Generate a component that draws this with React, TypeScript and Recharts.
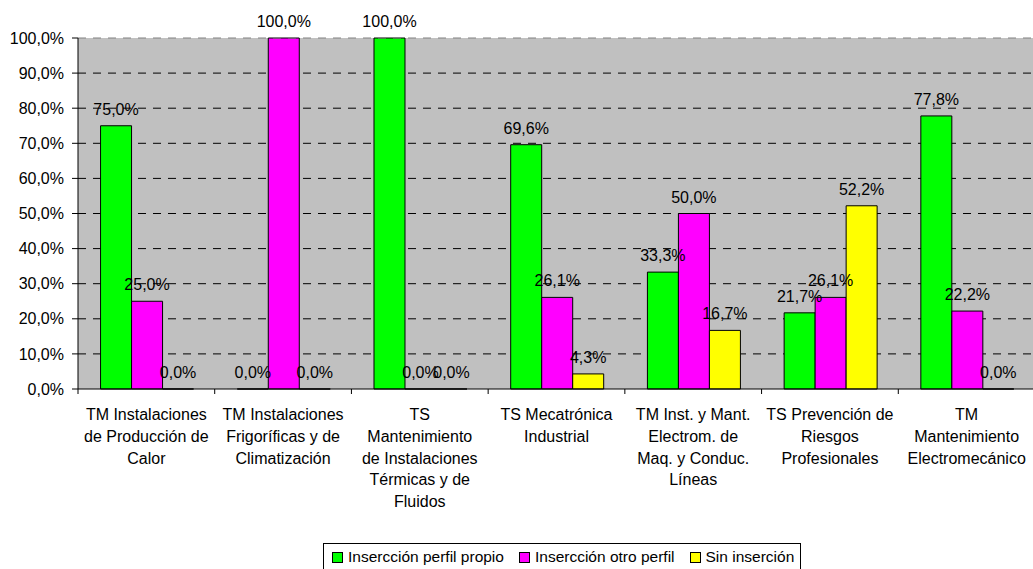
import React from 'react';
import { BarChart, Bar, XAxis, YAxis, CartesianGrid, LabelList, ReferenceLine } from 'recharts';

const categories = [
  'TM Instalaciones de Producción de Calor',
  'TM Instalaciones Frigoríficas y de Climatización',
  'TS Mantenimiento de Instalaciones Térmicas y de Fluidos',
  'TS Mecatrónica Industrial',
  'TM Inst. y Mant. Electrom. de Maq. y Conduc. Líneas',
  'TS Prevención de Riesgos Profesionales',
  'TM Mantenimiento Electromecánico',
];

const tickLines = [
  ['TM Instalaciones', 'de Producción de', 'Calor'],
  ['TM Instalaciones', 'Frigoríficas y de', 'Climatización'],
  ['TS', 'Mantenimiento', 'de Instalaciones', 'Térmicas y de', 'Fluidos'],
  ['TS Mecatrónica', 'Industrial'],
  ['TM Inst. y Mant.', 'Electrom. de', 'Maq. y Conduc.', 'Líneas'],
  ['TS Prevención de', 'Riesgos', 'Profesionales'],
  ['TM', 'Mantenimiento', 'Electromecánico'],
];

const propio = [75.0, 0.0, 100.0, 69.6, 33.3, 21.7, 77.8];
const otro = [25.0, 100.0, 0.0, 26.1, 50.0, 26.1, 22.2];
const sin = [0.0, 0.0, 0.0, 4.3, 16.7, 52.2, 0.0];

const seriesNames = ['Insercción perfil propio', 'Insercción otro perfil', 'Sin inserción'];
const seriesColors = ['#00FF00', '#FF00FF', '#FFFF00'];
const yTicks = [0, 10, 20, 30, 40, 50, 60, 70, 80, 90, 100];
const gridValues = [10, 20, 30, 40, 50, 60, 70, 80, 90];

const data = categories.map((c, i) => ({ name: c, propio: propio[i], otro: otro[i], sin: sin[i] }));
const keys = ['propio', 'otro', 'sin'];

const FONT = '"Liberation Sans", Arial, sans-serif';
const fmt = (v: any) => `${Number(v).toFixed(1).replace('.', ',')}%`;

const CatTick = (props: any) => {
  const { x, y, payload, index } = props;
  const idx = typeof index === 'number' ? index : categories.indexOf(payload.value);
  const lines = tickLines[idx] || [String(payload.value)];
  const half = payload && typeof payload.offset === 'number' && payload.offset > 0
    ? payload.offset
    : (props.width || 957) / categories.length / 2;
  return (
    <g>
      <line x1={x - half} x2={x - half} y1={y} y2={y + 5} stroke="#000" strokeWidth={1} />
      <text x={x} y={y} textAnchor="middle" fontSize={16} fill="#000" fontFamily={FONT}>
        {lines.map((l, i) => (
          <tspan key={i} x={x} y={y + 31 + i * 21.8}>{l}</tspan>
        ))}
      </text>
    </g>
  );
};

const LegendBox = () => (
  <div
    style={{
      position: 'absolute',
      left: 323,
      top: 543,
      height: 40,
      border: '1px solid #000',
      background: '#fff',
      display: 'flex',
      alignItems: 'flex-start',
      paddingLeft: 8,
      paddingRight: 6,
      paddingTop: 4,
      boxSizing: 'border-box',
      fontFamily: FONT,
      fontSize: 15.5,
      color: '#000',
      whiteSpace: 'nowrap',
    }}
  >
    {seriesNames.map((n, i) => (
      <div key={n} style={{ display: 'flex', alignItems: 'center', marginRight: i < seriesNames.length - 1 ? 15 : 0, lineHeight: '18px' }}>
        <span style={{ display: 'inline-block', width: 9, height: 9, background: seriesColors[i], border: '1px solid #000', marginRight: 5 }} />
        <span>{n}</span>
      </div>
    ))}
  </div>
);

export default function App() {
  return (
    <div style={{ position: 'absolute', left: 0, top: 0, width: 1033, height: 569, overflow: 'hidden', background: '#fff', fontFamily: FONT }}>
      <BarChart
        width={1035}
        height={569}
        data={data}
        margin={{ top: 38, right: 0, left: 0, bottom: 0 }}
        barCategoryGap="16.5%"
        barGap={0}
      >
        <CartesianGrid
          vertical={false}
          horizontalValues={gridValues}
          stroke="#000"
          strokeDasharray="8 7"
          fill="#C0C0C0"
          fillOpacity={1}
        />
        <ReferenceLine y={100} stroke="#808080" strokeDasharray="8 7" />
        <XAxis
          dataKey="name"
          interval={0}
          height={180}
          tickSize={0}
          tickMargin={0}
          tickLine={false}
          axisLine={{ stroke: '#000', strokeWidth: 1 }}
          tick={<CatTick />}
        />
        <YAxis
          width={78}
          domain={[0, 100]}
          ticks={yTicks}
          interval={0}
          tickFormatter={fmt}
          tickSize={6}
          tickMargin={8}
          tickLine={{ stroke: '#000' }}
          axisLine={{ stroke: '#000', strokeWidth: 1 }}
          tick={{ fill: '#000', fontSize: 16, fontFamily: FONT }}
        />
        {keys.map((k, i) => (
          <Bar key={k} dataKey={k} name={seriesNames[i]} fill={seriesColors[i]} stroke="#000" strokeWidth={1} minPointSize={0.01} isAnimationActive={false}>
            <LabelList dataKey={k} position="top" offset={11} formatter={fmt} fill="#000" fontSize={16} fontFamily={FONT} />
          </Bar>
        ))}
      </BarChart>
      <LegendBox />
    </div>
  );
}
